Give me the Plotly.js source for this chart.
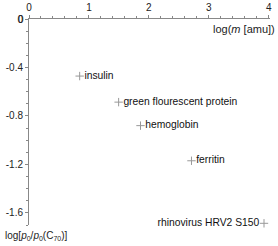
<!DOCTYPE html>
<html><head><meta charset="utf-8">
<script src="https://cdn.plot.ly/plotly-3.0.1.min.js"></script>
<style>html,body{margin:0;padding:0;background:#fff}#c{width:278px;height:246px}</style>
</head><body><div id="c"></div>
<script>
const names = ["insulin","green flourescent protein","hemoglobin","ferritin","rhinovirus HRV2 S150"];
const logM = [0.845, 1.495, 1.86, 2.71, 3.92];
const logP = [-0.471, -0.686, -0.88, -1.17, -1.686];
const xTickVals = [0,1,2,3,4];
const xTickText = ["0","1","2","3","4"];
const yTickVals = [0,-0.4,-0.8,-1.2,-1.6];
const yTickText = ["0","-0.4","-0.8","-1.2","-1.6"];
const labelPos = ["middle right","middle right","middle right","middle right","middle left"];

const font = {family:"Liberation Sans, Arial, sans-serif", size:10, color:"#222"};
const data = [{
  x: logM, y: logP, text: names, type:"scatter", mode:"markers+text",
  textposition: labelPos,
  textfont: {family:font.family, size:10.3, color:"#111"},
  marker: {symbol:"cross-thin-open", size:6, line:{color:"#999", width:1}, color:"#999"},
  cliponaxis:false, hoverinfo:"none"
}];
const layout = {
  width:278, height:246, margin:{l:29, r:8, t:19, b:21},
  paper_bgcolor:"#fff", plot_bgcolor:"#fff", showlegend:false, font:font,
  xaxis:{range:[0,4.02], side:"top", showline:true, linecolor:"#888", linewidth:1,
    showgrid:false, zeroline:false, tickvals:xTickVals, ticktext:xTickText,
    ticks:"outside", ticklen:3, tickcolor:"#888", ticklabeloverflow:"allow",
    minor:{dtick:0.2, tick0:0, ticks:"outside", ticklen:2, tickcolor:"#888", showgrid:false},
    tickfont:font},
  yaxis:{range:[-1.7,0], showline:true, linecolor:"#888", linewidth:1,
    showgrid:false, zeroline:false, tickvals:yTickVals, ticktext:yTickText,
    ticks:"outside", ticklen:3, tickcolor:"#888", ticklabeloverflow:"allow",
    minor:{dtick:0.1, tick0:0, ticks:"outside", ticklen:2, tickcolor:"#888", showgrid:false},
    tickfont:font},
  annotations:[
    {xref:"paper", yref:"paper", x:1, y:1, xanchor:"right", yanchor:"top", yshift:-2, xshift:7,
     text:"log(<i>m</i> [amu])", showarrow:false, font:{family:font.family, size:11, color:"#222"}},
    {xref:"paper", yref:"paper", x:0, y:0, xanchor:"left", yanchor:"top", xshift:-26, yshift:-3,
     text:"log[<i>p</i><sub>0</sub>/<i>p</i><sub>0</sub>(C<sub>70</sub>)]", showarrow:false, font:font},
    {xref:"paper", yref:"paper", x:0, y:1, xanchor:"center", yanchor:"middle", xshift:-8,
     text:yTickText[0], showarrow:false, font:{family:font.family, size:10, color:"#222"}}
  ]
};
Plotly.newPlot("c", data, layout, {staticPlot:true, displayModeBar:false});
</script></body></html>
